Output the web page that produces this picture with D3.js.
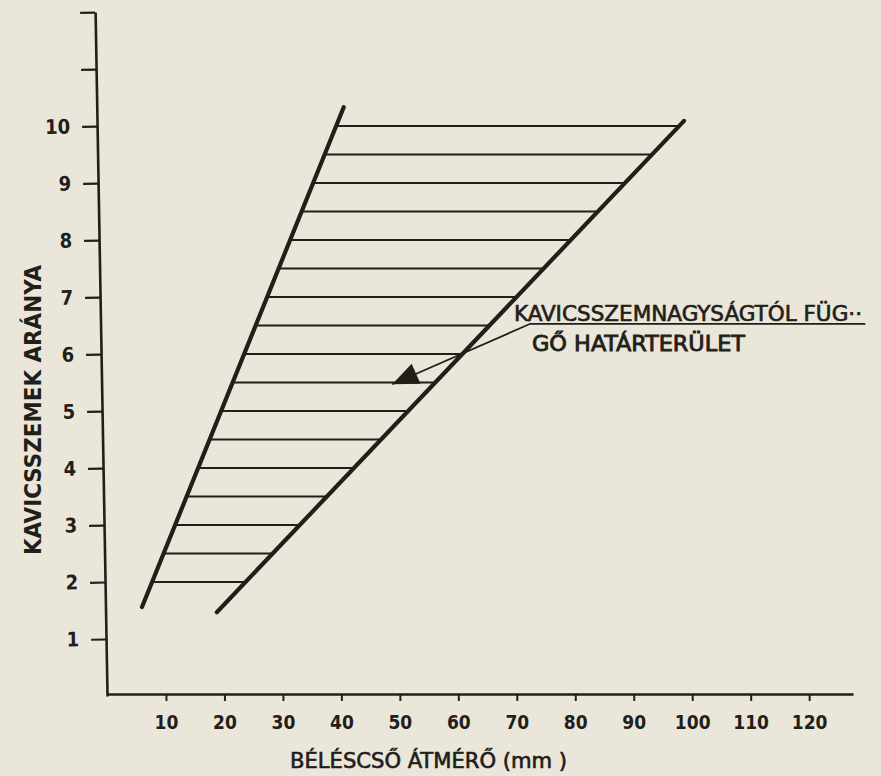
<!DOCTYPE html>
<html>
<head>
<meta charset="utf-8">
<script src="https://cdn.jsdelivr.net/npm/d3@7"></script>
<style>
  body { margin: 0; background: #ebe6da; }
  svg { display: block; }
  text { font-family: "DejaVu Sans Condensed", "DejaVu Sans", sans-serif; fill: #221e1a; }
</style>
</head>
<body>
<svg id="chart" width="881" height="776"></svg>
<script>
// tick values of both axes
var xTicks = [10, 20, 30, 40, 50, 60, 70, 80, 90, 100, 110, 120];
var yTicks = [1, 2, 3, 4, 5, 6, 7, 8, 9, 10, 11, 12];
var yLabelled = [1, 2, 3, 4, 5, 6, 7, 8, 9, 10];

// the two boundary lines: [diameter mm, ratio]
var leftEdge = [[5.9, 1.56], [40.4, 10.33]];
var rightEdge = [[18.7, 1.47], [98.6, 10.09]];

// hatch levels (ratio) inside the band
var hatchLevels = [2, 2.5, 3, 3.5, 4, 4.5, 5, 5.5, 6, 6.5, 7, 7.5, 8, 8.5, 9, 9.5, 10];

// annotation: text lines, arrow tip and elbow of the leader
var noteLines = ["KAVICSSZEMNAGYSÁGTÓL FÜG··", "GŐ HATÁRTERÜLET"];
var arrowTip = [48.7, 5.47];
var leaderElbow = [72.3, 6.53];
var underlineEnd = [129.6, 6.53];

var ink = "#221e1a";
var svg = d3.select("#chart");

var x = d3.scaleLinear().domain([0, 127.5]).range([107.5, 853]);
var y = d3.scaleLinear().domain([0, 12]).range([696, 12]);

//paper
svg.append("rect").attr("width", 881).attr("height", 776).attr("fill", "#ebe6da");

// y axis, tilted a bit like the scanned drawing
var yAxis = d3.axisLeft(y)
    .tickValues(yTicks)
    .tickSize(15)
    .tickSizeOuter(0)
    .tickPadding(12)
    .tickFormat(function(d){ return yLabelled.indexOf(d) > -1 ? d : ""; });
var gy = svg.append("g")
    .attr("transform", "rotate(-1, 107, 694) translate(107,0)")
    .call(yAxis);
gy.select(".domain").attr("stroke", ink).attr("stroke-width", 2.6);
gy.selectAll(".tick line").attr("stroke", ink).attr("stroke-width", 2.2);
gy.selectAll(".tick text").attr("font-size", 20).attr("font-weight", "bold").attr("fill", ink);

// x axis
var xAxis = d3.axisBottom(x)
    .tickValues(xTicks)
    .tickSize(7)
    .tickSizeOuter(0)
    .tickPadding(15);
var gx = svg.append("g").attr("transform", "translate(0,694)").call(xAxis);
gx.select(".domain").attr("stroke", ink).attr("stroke-width", 2.6);
gx.selectAll(".tick line").attr("stroke", ink).attr("stroke-width", 2);
gx.selectAll(".tick text").attr("font-size", 19).attr("font-weight", "bold").attr("fill", ink);

// axis titles
svg.append("text")
    .attr("x", 290).attr("y", 768)
    .attr("font-size", 21)
    .attr("stroke", ink).attr("stroke-width", 0.6)
    .attr("textLength", 277).attr("lengthAdjust", "spacingAndGlyphs")
    .text("BÉLÉSCSŐ ÁTMÉRŐ (mm )");

svg.append("text")
    .attr("transform", "translate(41,410) rotate(-90)")
    .attr("text-anchor", "middle")
    .attr("font-size", 23)
    .attr("font-weight", "bold")
    .attr("textLength", 290).attr("lengthAdjust", "spacingAndGlyphs")
    .text("KAVICSSZEMEK ARÁNYA");

//find diameter on a boundary line for a given ratio
function edgeAt(edge, r) {
    var t = (r - edge[0][1]) / (edge[1][1] - edge[0][1]);
    return edge[0][0] + t * (edge[1][0] - edge[0][0]);
}

// hatch lines
svg.append("g").selectAll("line")
    .data(hatchLevels)
    .enter()
    .append("line")
    .attr("x1", function(d){ return x(edgeAt(leftEdge, d)); })
    .attr("x2", function(d){ return x(edgeAt(rightEdge, d)); })
    .attr("y1", function(d){ return y(d); })
    .attr("y2", function(d){ return y(d); })
    .attr("stroke", ink)
    .attr("stroke-width", 2);

// boundary lines
var line = d3.line()
    .x(function(d){ return x(d[0]); })
    .y(function(d){ return y(d[1]); });
svg.selectAll("path.edge")
    .data([leftEdge, rightEdge])
    .enter()
    .append("path")
    .attr("class", "edge")
    .attr("d", line)
    .attr("fill", "none")
    .attr("stroke", ink)
    .attr("stroke-width", 4.2)
    .attr("stroke-linecap", "round");

// annotation leader + underline
svg.append("path")
    .attr("d", line([underlineEnd, leaderElbow, arrowTip]))
    .attr("fill", "none")
    .attr("stroke", ink)
    .attr("stroke-width", 1.8);

// arrow head
var tx = x(arrowTip[0]), ty = y(arrowTip[1]);
var ang = Math.atan2(ty - y(leaderElbow[1]), tx - x(leaderElbow[0]));
var len = 26, half = 11;
var bx = tx - len * Math.cos(ang), by = ty - len * Math.sin(ang);
svg.append("polygon")
    .attr("points", [
        [tx, ty],
        [bx + half * Math.sin(ang), by - half * Math.cos(ang)],
        [bx - half * Math.sin(ang), by + half * Math.cos(ang)]
    ].map(function(p){ return p.join(","); }).join(" "))
    .attr("fill", ink);

// annotation text
svg.append("text")
    .attr("x", 514).attr("y", 321)
    .attr("font-size", 21)
    .attr("stroke", ink).attr("stroke-width", 0.6)
    .attr("textLength", 348).attr("lengthAdjust", "spacingAndGlyphs")
    .text(noteLines[0]);
svg.append("text")
    .attr("x", 532).attr("y", 351)
    .attr("font-size", 22)
    .attr("stroke", ink).attr("stroke-width", 0.8)
    .attr("textLength", 213).attr("lengthAdjust", "spacingAndGlyphs")
    .text(noteLines[1]);
</script>
</body>
</html>
